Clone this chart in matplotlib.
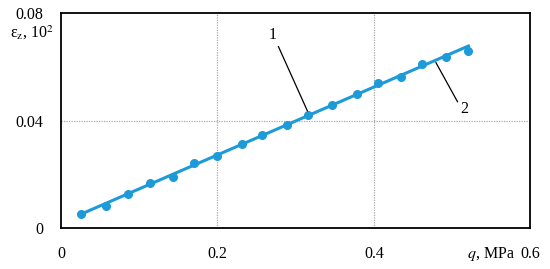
import numpy as np
import matplotlib
matplotlib.use("Agg")
import matplotlib.pyplot as plt

plt.rcParams['font.family'] = ['Liberation Serif', 'DejaVu Serif']
plt.rcParams['mathtext.fontset'] = 'stix'

# measured points (2)
q_pts = [0.025, 0.057, 0.086, 0.114, 0.143, 0.170, 0.200, 0.232, 0.257,
         0.289, 0.316, 0.347, 0.378, 0.405, 0.435, 0.462, 0.492, 0.521]
eps_pts = [0.0051, 0.0083, 0.0125, 0.0166, 0.0191, 0.0241, 0.0269, 0.0311, 0.0345,
           0.0384, 0.0422, 0.0458, 0.0500, 0.0538, 0.0561, 0.0611, 0.0635, 0.0659]

# calculated line (1)
q_line = [0.024, 0.521]
eps_line = [0.0050, 0.0677]

xticks = [0, 0.2, 0.4, 0.6]
xlabels = ['0', '0.2', '0.4', '0.6']
yticks = [0, 0.04, 0.08]
ylabels = ['0', '0.04', '0.08']

blue = '#1d9ad8'
fs = 11.5

fig = plt.figure(figsize=(5.5, 2.69), dpi=100)
ax = fig.add_axes([0.111, 0.152, 0.853, 0.800])

ax.plot(q_line, eps_line, color=blue, lw=2.2, zorder=3)
ax.plot(q_pts, eps_pts, 'o', color=blue, ms=5.5, zorder=4)

ax.set_xlim(0, 0.6)
ax.set_ylim(0, 0.08)
ax.set_xticks(xticks)
ax.set_xticklabels(xlabels)
ax.set_yticks(yticks)
ax.set_yticklabels(ylabels)
ax.tick_params(length=0, labelsize=fs)
ax.tick_params(axis='x', pad=13)
ax.tick_params(axis='y', pad=13)

for v in [0.2, 0.4]:
    ax.axvline(v, color='#aaaaaa', lw=0.9, ls=(0, (1, 1)), zorder=1)
ax.axhline(0.04, color='#aaaaaa', lw=0.9, ls=(0, (1, 1)), zorder=1)

for s in ax.spines.values():
    s.set_linewidth(1.3)

# leaders
ax.plot([0.278, 0.315], [0.0675, 0.0436], color='black', lw=0.9, zorder=5)
ax.text(0.270, 0.0718, '1', fontsize=fs, ha='center', va='center')
ax.plot([0.4795, 0.507], [0.0615, 0.047], color='black', lw=0.9, zorder=5)
ax.text(0.516, 0.0442, '2', fontsize=fs, ha='center', va='center')

fig.text(54 / 550, 1 - 33 / 269, r'ε$_\mathrm{z}$, 10$^2$', fontsize=fs,
         ha='right', va='center')
fig.text(515 / 550, 1 - 254 / 269, r'$q$, MPa', fontsize=fs,
         ha='right', va='center')

fig.savefig('out.png', dpi=100)
